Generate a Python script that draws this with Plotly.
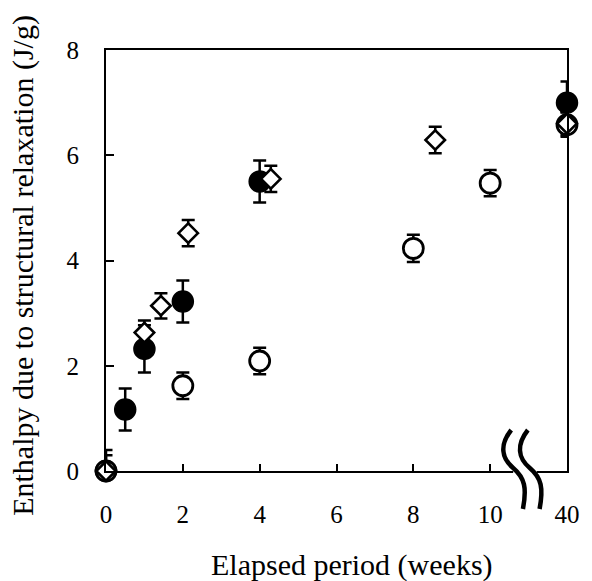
import plotly.graph_objects as go

# ---- data (weeks, enthalpy J/g, error) ----
filled_weeks = [0, 0.5, 1, 2, 4, 40]
filled_vals = [0.0, 1.17, 2.32, 3.22, 5.50, 7.00]
filled_err = [0.40, 0.40, 0.45, 0.40, 0.40, 0.40]

open_weeks = [0, 2, 4, 8, 10, 40]
open_vals = [0.0, 1.62, 2.09, 4.23, 5.47, 6.58]
open_err = [0.0, 0.25, 0.25, 0.26, 0.25, 0.23]

diamond_weeks = [0, 1, 1.43, 2.14, 4.29, 8.57, 40]
diamond_vals = [0.0, 2.63, 3.14, 4.52, 5.55, 6.29, 6.60]
diamond_err = [0.30, 0.23, 0.24, 0.25, 0.25, 0.25, 0.22]

tick_vals = [0, 2, 4, 6, 8, 10, 12]
tick_text = ["0", "2", "4", "6", "8", "10", "40"]
y_ticks = [0, 2, 4, 6, 8]

BREAK_POS = 12  # 40 weeks drawn after the axis break


def axis_pos(w):
    return w if w <= 10 else BREAK_POS


FONT = "'Liberation Serif', 'Times New Roman', 'DejaVu Serif', serif"

W, H = 592, 581
L, R, T, B = 106, 15, 50, 110
PW, PH = W - L - R, H - T - B


def P(px, py):
    return f"{(px - L) / PW:.5f},{(H - B - py) / PH:.5f}"


fig = go.Figure()


def add_series(weeks, vals, err, symbol, size, fill, lw):
    fig.add_trace(go.Scatter(
        x=[axis_pos(w) for w in weeks], y=vals, mode="markers",
        cliponaxis=False,
        marker=dict(symbol=symbol, size=size, color=fill,
                    line=dict(color="black", width=lw)),
        error_y=dict(type="data", array=err, visible=True,
                     color="black", thickness=2.5, width=6.5),
        showlegend=False,
    ))


add_series(filled_weeks, filled_vals, filled_err, "circle", 21, "black", 1.5)
add_series(open_weeks, open_vals, open_err, "circle", 20, "white", 2.8)
add_series(diamond_weeks, diamond_vals, diamond_err, "diamond", 15, "white", 2.6)

shapes = []
# white gap in x axis between the break marks
shapes.append(dict(type="rect", xref="paper", yref="paper",
                   x0=(522 - L) / PW, x1=(546 - L) / PW,
                   y0=(H - B - 476) / PH, y1=(H - B - 466) / PH,
                   fillcolor="white", line=dict(width=0), layer="above"))
for dx in (0, 17):
    path = ("M " + P(520 + dx, 430) + " C " + P(508 + dx, 445) + " " + P(510 + dx, 458)
            + " " + P(522 + dx, 468) + " S " + P(536 + dx, 488) + " " + P(532 + dx, 509))
    shapes.append(dict(type="path", xref="paper", yref="paper", path=path,
                       line=dict(color="black", width=4.5), layer="above"))

fig.update_layout(
    width=W, height=H,
    margin=dict(l=L, r=R, t=T, b=B),
    paper_bgcolor="white", plot_bgcolor="white",
    font=dict(family=FONT, size=25, color="black"),
    shapes=shapes,
    xaxis=dict(range=[0, 12], tickvals=tick_vals, ticktext=tick_text,
               ticks="inside", ticklen=7, tickwidth=2, tickcolor="black",
               showline=True, linecolor="black", linewidth=2, mirror=True,
               showgrid=False, zeroline=False, ticklabelstandoff=20,
               tickfont=dict(family=FONT, size=25)),
    yaxis=dict(range=[0, 8], tickvals=y_ticks,
               ticks="inside", ticklen=8, tickwidth=2, tickcolor="black",
               showline=True, linecolor="black", linewidth=2, mirror=True,
               showgrid=False, zeroline=False, ticklabelstandoff=20,
               tickfont=dict(family=FONT, size=25)),
    annotations=[
        dict(text="Elapsed period (weeks)", xref="paper", yref="paper",
             x=(357.5 - L) / PW, y=(H - B - 565) / PH, xanchor="center", yanchor="middle",
             showarrow=False, font=dict(family=FONT, size=30)),
        dict(text="Enthalpy due to structural relaxation (J/g)", xref="paper", yref="paper",
             x=(21 - L) / PW, y=(H - B - 265) / PH, xanchor="center", yanchor="middle",
             textangle=-90, showarrow=False, font=dict(family=FONT, size=30)),
    ],
)

fig.write_html("out.html")
